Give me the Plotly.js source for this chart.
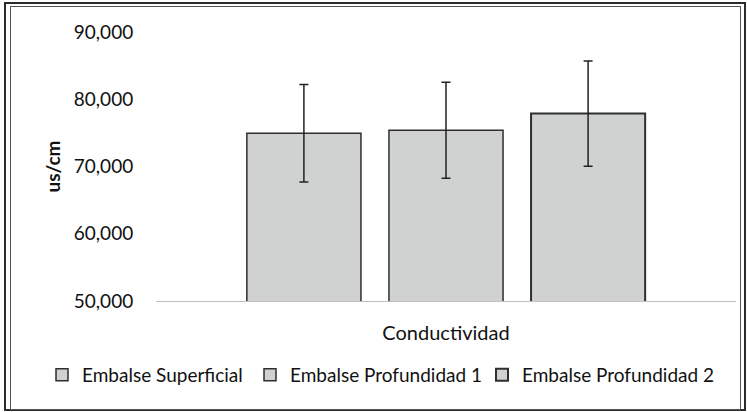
<!DOCTYPE html>
<html>
<head>
<meta charset="utf-8">
<script src="https://cdn.plot.ly/plotly-3.0.1.min.js"></script>
<style>
  html, body { margin: 0; padding: 0; background: #fff; }
  #wrap { position: relative; width: 747px; height: 412px; }
  #chart { position: absolute; left: 0; top: 0; width: 747px; height: 412px; }
  .frame { position: absolute; pointer-events: none; box-sizing: border-box; }
</style>
</head>
<body>
<div id="wrap">
  <div id="chart"></div>
  <div class="frame" style="left:4px; top:2px; width:742px; height:409px; border:2px solid #2b2b2b;"></div>
  <div class="frame" style="left:10px; top:6px; width:731px; height:404px; border:1px solid #555;"></div>
</div>
<script>
const categories = ['Conductividad'];
const seriesNames = ['Embalse Superficial', 'Embalse Profundidad 1', 'Embalse Profundidad 2'];
const superficial = [74950];
const profundidad1 = [75400];
const profundidad2 = [77870];
const errSuperficial = [7250];
const errProfundidad1 = [7130];
const errProfundidad2 = [7820];
const yTickVals = [50000, 60000, 70000, 80000, 90000];
const yTickText = ['50,000', '60,000', '70,000', '80,000', '90,000'];

const FONT = 'Lato, "Open Sans", sans-serif';
const values = [superficial, profundidad1, profundidad2];
const errors = [errSuperficial, errProfundidad1, errProfundidad2];
const lineWidths = [1.5, 1.5, 2];
const legendIds = ['legend', 'legend2', 'legend3'];
const legendX = [42, 250, 482];

const traces = seriesNames.map((name, i) => ({
  type: 'bar',
  name: name,
  x: categories,
  y: values[i],
  base: 0,
  legend: legendIds[i],
  marker: { color: '#d0d2d2', line: { color: '#2e2e2e', width: lineWidths[i] } },
  error_y: { type: 'data', array: errors[i], visible: true, color: '#222', thickness: 1.5, width: 4.5 },
  hoverinfo: 'none'
}));

const layout = {
  width: 747, height: 412,
  margin: { l: 156, r: 11, t: 32, b: 111 },
  paper_bgcolor: 'rgba(0,0,0,0)',
  plot_bgcolor: 'rgba(0,0,0,0)',
  font: { family: FONT, size: 19, color: '#111' },
  barmode: 'group',
  bargap: 0.265,
  bargroupgap: 0.197,
  showlegend: true,
  xaxis: {
    type: 'category',
    showgrid: false,
    zeroline: false,
    showline: true,
    linecolor: '#bfbfbf',
    linewidth: 1.2,
    ticks: 'outside', ticklen: 14, tickcolor: 'rgba(0,0,0,0)',
    tickfont: { family: FONT, size: 20, color: '#111' },
    fixedrange: true
  },
  yaxis: {
    range: [50000, 90000],
    tickvals: yTickVals,
    ticktext: yTickText,
    showgrid: false,
    zeroline: false,
    showline: false,
    ticks: 'outside', ticklen: 18, tickcolor: 'rgba(0,0,0,0)',
    tickfont: { family: FONT, size: 19, color: '#111' },
    title: { text: '<b>us/cm</b>', font: { family: FONT, size: 19, color: '#111' }, standoff: 8 },
    fixedrange: true
  }
};

legendIds.forEach((id, i) => {
  layout[id] = {
    orientation: 'h',
    xref: 'container', yref: 'container',
    x: legendX[i] / 747, xanchor: 'left',
    y: 0.09, yanchor: 'middle',
    font: { family: FONT, size: 19, color: '#111' },
    itemwidth: 30,
    bgcolor: 'rgba(0,0,0,0)'
  };
});

Plotly.newPlot('chart', traces, layout, { displayModeBar: false, staticPlot: true });
</script>
</body>
</html>
